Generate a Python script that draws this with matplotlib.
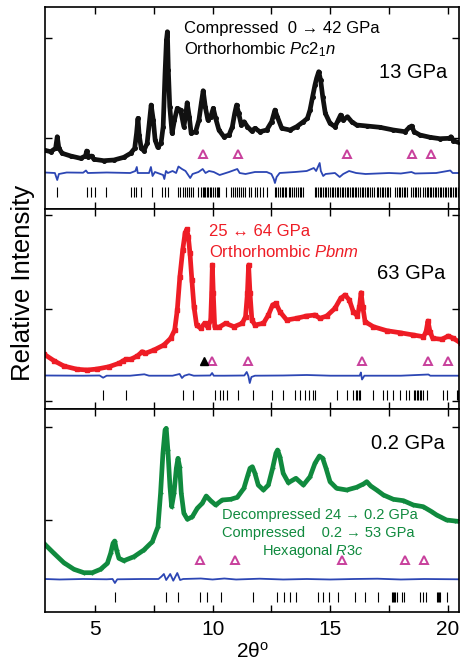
import numpy as np
import matplotlib
matplotlib.use('Agg')
import matplotlib.pyplot as plt

plt.rcParams['font.family'] = ['Liberation Sans', 'DejaVu Sans']
plt.rcParams['mathtext.fontset'] = 'custom'
plt.rcParams['mathtext.rm'] = 'Liberation Sans'
plt.rcParams['mathtext.it'] = 'Liberation Sans:italic'

# ---- 13 GPa, Pc2_1n ----
top_tt = [2.83, 3.12, 3.33, 3.40, 3.47, 3.61, 3.97, 4.39, 4.60, 4.65, 4.72, 4.86, 4.96, 5.38, 5.81,
          6.23, 6.52, 6.69, 6.77, 6.83, 6.88, 6.97, 7.08, 7.22, 7.31, 7.39, 7.48, 7.56, 7.67, 7.81,
          7.90, 7.98, 8.04, 8.08, 8.12, 8.18, 8.28, 8.38, 8.50, 8.64, 8.78, 8.87, 8.92, 9.01, 9.09,
          9.28, 9.42, 9.52, 9.60, 9.69, 9.80, 9.92, 10.03, 10.13, 10.27, 10.48, 10.70, 10.84, 10.94,
          11.02, 11.11, 11.22, 11.34, 11.48, 11.66, 11.80, 12.01, 12.30, 12.51, 12.65, 12.75, 12.94,
          13.29, 13.57, 13.86, 14.03, 14.14, 14.25, 14.35, 14.42, 14.51, 14.59, 14.68, 14.79, 14.99,
          15.20, 15.34, 15.44, 15.56, 15.73, 15.91, 16.12, 16.55, 17.11, 17.68, 18.18, 18.36, 18.46,
          18.56, 18.81, 19.24, 19.66, 20.06, 20.13, 20.23, 20.56]
top_obs = [59, 57.3, 60.7, 72.3, 60.7, 55.7, 53, 50.7, 53, 58, 52.3, 53, 49.7, 48.3, 49,
           51.7, 55.7, 60.7, 75.7, 90.7, 74, 60.7, 58.3, 65.7, 85.7, 104, 89, 69, 61.7, 65.7,
           82.3, 135.7, 169, 177.3, 139, 102.3, 75.7, 89, 100.7, 99, 82.3, 95.7, 106.3, 92.3, 75.7,
           77.3, 89, 105.7, 118.3, 102.3, 89, 92.3, 100.7, 90.7, 79, 72.3, 74, 82.3, 95.7,
           104, 95.7, 84, 87.3, 82.3, 78, 80.7, 77.3, 79, 87.3, 99, 92.3, 80.7,
           79, 82.3, 87.3, 90.7, 99, 112.3, 124, 130.7, 137.3, 129, 112.3, 95.7, 85.7,
           82.3, 89, 94, 89, 92.3, 87.3, 84, 83, 81.7, 79, 77.3, 81.7, 83,
           77.3, 74, 71.7, 70.3, 70.7, 72.3, 68.3, 65.7]
top_diff_tt = [2.88, 3.30, 3.40, 3.47, 3.80, 4.50, 4.62, 4.70, 5.50, 6.50, 6.72, 6.78, 6.82, 7.30, 7.38,
               7.45, 7.55, 7.90, 7.95, 8.02, 8.10, 8.30, 8.45, 8.55, 8.70, 8.85, 9.05, 9.15, 9.40, 9.58,
               9.70, 9.85, 10.05, 10.30, 10.70, 11.05, 11.15, 11.40, 11.80, 12.30, 12.50, 12.60, 12.65,
               12.72, 12.85, 13.50, 14.00, 14.30, 14.40, 14.55, 14.60, 14.70, 14.80, 15.20, 15.40, 15.55,
               15.80, 16.10, 16.50, 17.00, 17.50, 18.00, 18.45, 18.60, 19.50, 20.10, 20.20, 20.49]
top_diff = [36.5, 36, 29, 35, 36.5, 36.3, 38.5, 36, 36.5, 36, 38, 42, 36, 36, 42,
            33, 37, 34, 30, 38, 36, 38, 36, 42.5, 40, 38, 31, 35, 37, 40,
            36, 38, 37, 34, 37, 40, 36, 35, 37, 37, 35, 30, 26,
            32, 36, 37, 38, 41, 38, 46, 38, 33, 35, 36, 32, 35,
            38, 36, 35, 35.5, 36, 35.5, 37, 35.5, 36, 38.5, 36, 36]
top_refl = [3.40, 4.65, 4.85, 5.02, 5.47, 6.55, 6.66, 6.76, 6.97, 7.41, 7.85, 7.99, 8.10, 8.54, 8.63,
            8.74, 8.81, 8.91, 9.01, 9.10, 9.18, 9.38, 9.49, 9.58, 9.63, 9.69, 9.75, 9.82, 9.88, 9.95,
            10.02, 10.09, 10.17, 10.23, 10.28, 10.56, 10.77, 10.87, 10.94, 11.02, 11.11, 11.19, 11.28,
            11.39, 11.53, 11.62, 11.80, 11.90, 12.01, 12.13, 12.30, 12.65, 12.71, 12.80, 12.86, 12.93,
            13.01, 13.08, 13.14, 13.23, 13.30, 13.38, 13.47, 13.53, 13.62, 13.70, 13.77, 13.86, 14.35,
            14.41, 14.48, 14.56, 14.61, 14.69, 14.77, 14.83, 14.92, 14.99, 15.06, 15.12, 15.20, 15.27,
            15.33, 15.42, 15.49, 15.55, 15.63, 15.70, 15.76, 15.84, 15.91, 15.98, 16.04, 16.11, 16.19,
            16.25, 16.33, 16.40, 16.46, 16.54, 16.61, 16.68, 16.76, 16.84, 16.97, 17.04, 17.12, 17.18,
            17.26, 17.33, 17.39, 17.47, 17.54, 17.75, 17.83, 17.90, 17.97, 18.05, 18.12, 18.19, 18.27,
            18.45, 18.52, 18.60, 18.66, 18.74, 18.81, 18.95, 19.02, 19.09, 19.15, 19.23, 19.30, 19.37,
            19.44, 19.50, 19.58, 19.65, 19.72, 19.80, 19.86, 19.93, 20.01, 20.08, 20.15, 20.22, 20.29,
            20.36, 20.43]
top_tri = [9.60, 11.09, 15.72, 18.46, 19.28]

# ---- 63 GPa, Pbnm ----
mid_tt = [2.83, 3.26, 3.68, 4.25, 4.68, 5.10, 5.60, 6.02, 6.21, 6.31, 6.52, 6.80, 7.01, 7.15, 7.51,
          7.93, 8.22, 8.39, 8.50, 8.61, 8.73, 8.83, 8.90, 8.97, 9.04, 9.12, 9.21, 9.32, 9.49, 9.66,
          9.80, 9.92, 9.96, 9.99, 10.03, 10.09, 10.27, 10.55, 10.91, 11.26, 11.40, 11.48, 11.53,
          11.59, 11.67, 11.80, 12.16, 12.37, 12.55, 12.69, 12.86, 13.15, 13.57, 13.99, 14.35, 14.56,
          14.85, 15.20, 15.44, 15.63, 15.81, 15.98, 16.15, 16.24, 16.31, 16.38, 16.48, 16.83, 17.40,
          17.96, 18.53, 18.96, 19.07, 19.15, 19.24, 19.35, 19.73, 20.02, 20.23, 20.56]
mid_obs = [55, 48.3, 43, 39.7, 39, 40, 42.3, 45.7, 48.3, 49.7, 49.7, 53, 57.3, 55.7, 59,
           64, 70.7, 79, 99, 132.3, 159, 175.7, 179.7, 172.3, 155.7, 129, 102.3, 84, 80.7, 85.7,
           81.7, 89, 115.7, 144, 115.7, 82.3, 81.7, 85.7, 82.3, 85.7, 92.3, 115.7, 144,
           115.7, 89, 84, 85.7, 94, 104, 105.7, 97.3, 89, 90.7, 93, 94, 90.7,
           93, 100.7, 110.7, 114, 109, 97.3, 93, 102.3, 116.3, 102.3, 87.3, 82.3, 78.3,
           76.3, 74, 72.3, 77.3, 88, 77.3, 70.7, 69.7, 73, 70.7, 65.7]
mid_diff_tt = [2.88, 4.50, 5.20, 5.35, 5.50, 6.50, 7.10, 7.30, 8.30, 8.60, 8.70, 8.80, 9.00, 9.20, 9.90,
               9.98, 10.05, 10.50, 11.35, 11.45, 11.52, 11.58, 11.65, 11.80, 13.00, 14.00, 15.00, 16.25,
               16.30, 16.35, 16.45, 18.00, 19.17, 19.25, 20.49]
mid_diff = [33.5, 33.3, 33.5, 31.3, 33.3, 33.3, 34.7, 33.3, 33.3, 35, 31, 33.3, 34.7, 33.3, 33.5,
            36, 33.3, 33.3, 33.5, 37, 33, 26, 32, 33.3, 33.5, 34, 33.3, 33.3,
            36.5, 29.5, 33.3, 33.3, 34.5, 33.3, 33.3]
mid_refl = [5.36, 6.32, 8.76, 9.15, 10.10, 10.31, 10.43, 10.60, 11.07, 11.70, 12.51, 13.00, 13.50,
            13.71, 13.93, 14.11, 14.25, 14.35, 15.30, 15.70, 15.98, 16.08, 16.14, 16.20, 16.26, 16.80,
            17.23, 17.40, 17.68, 17.96, 18.20, 18.36, 18.56, 18.62, 18.68, 18.74, 18.80, 18.85, 18.95,
            19.10, 19.80, 19.97, 20.37, 20.44]
mid_tri = [9.97, 11.52, 16.34, 19.17, 20.02]
mid_tri_imp = [9.63]

# ---- 0.2 GPa, R3c ----
bot_tt = [2.83, 3.26, 3.68, 4.11, 4.53, 4.89, 5.24, 5.53, 5.67, 5.77, 5.84, 5.92, 6.02, 6.23, 6.66,
          7.08, 7.44, 7.68, 7.79, 7.89, 7.98, 8.03, 8.10, 8.19, 8.26, 8.36, 8.46, 8.53, 8.60, 8.67,
          8.78, 8.93, 9.14, 9.35, 9.56, 9.73, 9.92, 10.13, 10.41, 10.77, 11.05, 11.33, 11.50, 11.59,
          11.69, 11.80, 11.94, 12.16, 12.37, 12.55, 12.69, 12.76, 12.86, 13.00, 13.22, 13.54, 13.86,
          14.14, 14.35, 14.54, 14.68, 14.82, 14.99, 15.27, 15.70, 16.12, 16.41, 16.55, 16.72, 16.97,
          17.26, 17.68, 18.11, 18.53, 18.95, 19.31, 19.52, 19.94, 20.30, 20.56]
bot_obs = [68.7, 58.7, 49.3, 42.7, 39.3, 39.3, 42.7, 48.7, 58.7, 68.7, 71, 62, 53.7, 51.3, 55.3,
           62, 70.3, 85.3, 118.7, 158.7, 182, 183.7, 162, 125.3, 105.3, 118.7, 143.7, 153.7, 145.3, 118.7,
           98.7, 92.7, 95.3, 103.7, 108.7, 116, 111.3, 107, 112, 112.7, 114.7, 123.7, 137, 143.7,
           145.3, 138.7, 127, 122, 127, 143.7, 158.7, 162, 155.3, 138.7, 129.3, 133.7, 127,
           135.3, 148.7, 156, 153.7, 143.7, 130.3, 123.7, 122, 124.7, 128, 130.3, 126, 122,
           117, 112.7, 111.3, 107, 105.3, 100.3, 97, 92, 91, 90.3]
bot_diff_tt = [2.88, 3.50, 4.50, 5.50, 5.75, 5.85, 5.95, 7.00, 7.70, 7.83, 7.93, 8.03, 8.20, 8.33, 8.50,
               8.62, 8.75, 9.50, 10.00, 10.50, 11.00, 12.00, 13.00, 14.00, 15.00, 16.00, 17.00, 18.00,
               19.00, 20.49]
bot_diff = [33, 32.5, 33, 32.7, 33, 29, 32.7, 33, 33, 35.5, 38, 32, 38, 31.3, 39,
            32, 33, 33.5, 32.5, 33.5, 32.5, 33.3, 32.5, 33, 32.5, 33, 33.3, 32.5,
            33, 32.7]
bot_refl = [5.85, 8.00, 8.54, 9.46, 9.78, 10.34, 11.70, 12.75, 13.05, 13.29, 13.53, 14.49, 14.70,
            14.96, 15.34, 16.05, 16.48, 17.04, 17.61, 17.66, 17.72, 17.77, 17.82, 18.04, 18.15, 18.81,
            18.95, 19.07, 19.52, 19.57, 19.62, 19.66, 19.95]
bot_tri = [9.46, 10.95, 15.48, 18.18, 19.00]

fig = plt.figure(figsize=(4.61, 6.70), dpi=100)
left, width = 45 / 461, 414 / 461
ax_top = fig.add_axes([left, 461 / 670, width, 202 / 670])
ax_mid = fig.add_axes([left, 261 / 670, width, 200 / 670], sharex=ax_top)
ax_bot = fig.add_axes([left, 58 / 670, width, 203 / 670], sharex=ax_top)

blue = '#2c46b4'
mag = '#c8409c'
red = '#ee1c25'
grn = '#108a3e'

panels = [
    (ax_top, top_tt, top_obs, '#111111', 'o', 2.6, top_diff_tt, top_diff, top_refl, (12.3, 21.7),
     top_tri, 55, 202, [71, 171]),
    (ax_mid, mid_tt, mid_obs, red, 's', 2.2, mid_diff_tt, mid_diff, mid_refl, (9, 19),
     mid_tri, 48.3, 200, [8, 100, 194]),
    (ax_bot, bot_tt, bot_obs, grn, '+', 3.0, bot_diff_tt, bot_diff, bot_refl, (10.3, 20.3),
     bot_tri, 52, 203, [92, 185]),
]

for ax, tt, obs, col, mk, ms, dtt, diff, refl, (r0, r1), tri, ytri, ytop, yt in panels:
    ax.plot(tt, obs, '-', color=col, lw=3.4, marker=mk, ms=ms, mew=1.0,
            solid_joinstyle='round', solid_capstyle='round')
    ax.plot(tt, obs, '-', color=col, lw=1.0)
    ax.plot(dtt, diff, '-', color=blue, lw=1.3)
    ax.vlines(refl, r0, r1, color='k', lw=0.8)
    ax.plot(tri, [ytri] * len(tri), ls='none', marker='^', ms=5.5, mfc='none', mec=mag, mew=1.4)
    ax.set_ylim(0, ytop)
    ax.set_yticks(yt)
    ax.set_yticklabels([])
    ax.tick_params(direction='in', top=True, right=True, length=5, width=1.0)
    for s in ax.spines.values():
        s.set_linewidth(1.2)

ax_mid.plot(mid_tri_imp, [48.3], ls='none', marker='^', ms=5.5, color='k')

ax_top.set_xlim(2.88, 20.47)
ax_top.set_xticks([5, 7.5, 10, 12.5, 15, 17.5, 20])
for ax in (ax_top, ax_mid):
    ax.tick_params(labelbottom=False)
ax_bot.set_xticks([5, 7.5, 10, 12.5, 15, 17.5, 20])
ax_bot.set_xticklabels(['5', '', '10', '', '15', '', '20'], fontsize=15)
ax_bot.tick_params(axis='x', pad=6)
ax_bot.set_xlabel('2θ$^\\mathrm{o}$', fontsize=15, labelpad=2)

fig.text(0.049, 0.577, 'Relative Intensity', rotation=90, ha='center', va='center', fontsize=18.5)

# annotations
ax_top.text(8.78, 181, 'Compressed  0 → 42 GPa', fontsize=12, va='center')
ax_top.text(8.78, 159, r'Orthorhombic $\mathit{Pc2_1n}$', fontsize=12, va='center')
ax_top.text(19.97, 136, '13 GPa', fontsize=14.5, ha='right', va='center')

ax_mid.text(9.86, 177, '25 ↔ 64 GPa', fontsize=12, va='center', color=red)
ax_mid.text(9.86, 157, r'Orthorhombic $\mathit{Pbnm}$', fontsize=12, va='center', color=red)
ax_mid.text(19.88, 135.7, '63 GPa', fontsize=14.5, ha='right', va='center')

ax_bot.text(19.88, 168.7, '0.2 GPa', fontsize=14.5, ha='right', va='center')
ax_bot.text(10.40, 97, 'Decompressed 24 → 0.2 GPa', fontsize=10.5, va='center', color=grn)
ax_bot.text(10.40, 78.7, 'Compressed    0.2 → 53 GPa', fontsize=10.5, va='center', color=grn)
ax_bot.text(14.25, 61.3, r'Hexagonal $\mathit{R3c}$', fontsize=10.5, ha='center', va='center', color=grn)

fig.savefig('out.png', dpi=100)
